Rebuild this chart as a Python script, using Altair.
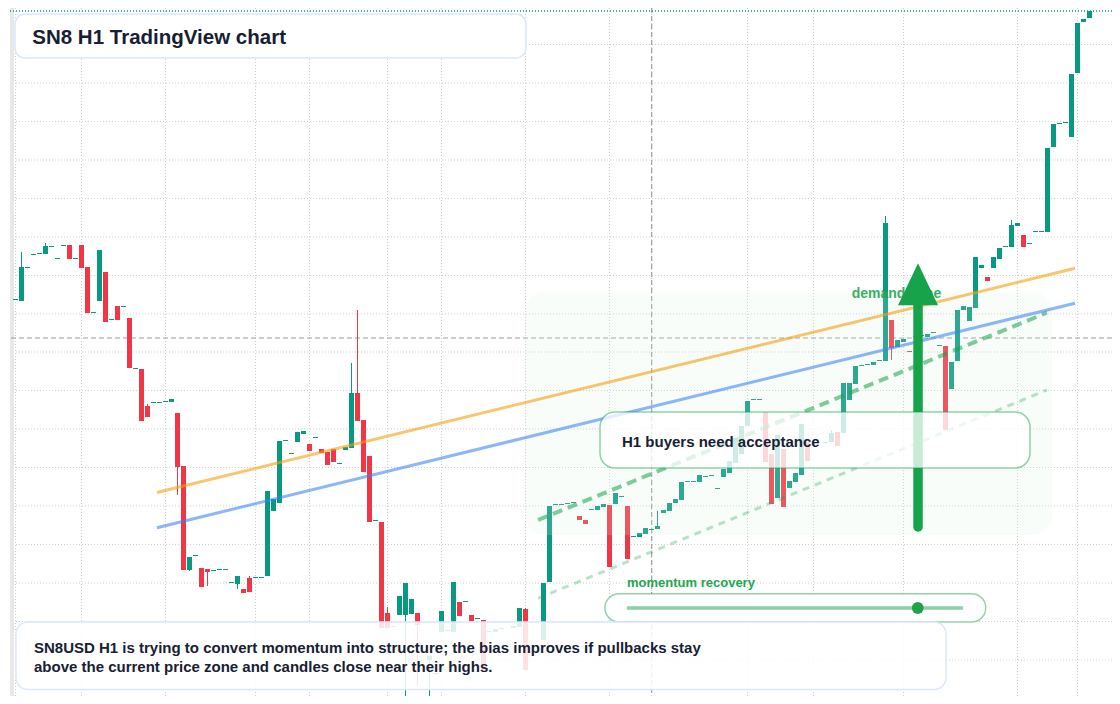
import altair as alt
import pandas as pd

# SN8USD H1 candles, one slot per hour (None = no bar drawn in that slot)
opens = [
    404, 403, 436, 449, 450, 450, 457, 445, 458, 459,
    445, 459, 437, 391, 403, 432, 384, 398, 397, 386,
    335, 335, 298, 301, 301, 302, 302, 291, 238, 134,
    148, 136, 135, 133, 134, 134, 121, 120, 115, 126,
    126, 126, 128, 193, 201, 263, 250, 262, 270, 260,
    266, 255, 252, 255, 240, 254, 256, 311, 284, 248,
    183, 182, 91, 77, 89, 89, 90, 91, None, 44,
    30, 72, 73, 72, 102, 102, 89, 85, 84, 72,
    72, 75, None, 76, 77, 95, None, None, 64, 122,
    199, 199, 200, 201, 188, 184, 194, 194, 197, 199,
    200, 207, 198, 167, 167, 170, 174, 175, 191, 193,
    201, 204, 222, 222, 222, 227, 228, 215, 227, 231,
    241, 250, 278, 304, 304, 292, 250, 206, 255, 216,
    222, 229, 262, None, None, 261, 262, 272, 271, 304,
    320, 338, 339, 339, 343, 343, 384, 357, 362, 353,
    367, 368, 367, 371, 358, 358, 315, 343, 394, 383,
    396, 436, 427, 436, 445, 457, 457, 478, 469, 460,
    472, 472, 472, 557, 580, 581, 567, 631, 682, 686,
]
closes = [
    405, 437, 437, 450, 451, 458, 458, 446, 459, 445,
    446, 436, 391, 392, 454, 382, 385, 384, 398, 336,
    336, 283, 287, 302, 302, 303, 305, 237, 134, 147,
    149, 117, 132, 134, 135, 135, 122, 128, 111, 112,
    127, 127, 213, 205, 263, 264, 251, 272, 273, 253,
    267, 251, 239, 242, 241, 257, 311, 283, 232, 182,
    184, 76, 76, 78, 108, 121, 105, 79, None, 48,
    31, 93, 74, 122, 88, 103, 83, 86, 34, 73,
    75, 76, None, 78, 96, 34, None, None, 121, 198,
    200, 200, 201, 202, 184, 180, 195, 198, 200, 137,
    211, 208, 145, 168, 171, 176, 175, 178, 194, 201,
    205, 222, 223, 223, 229, 228, 229, 216, 235, 243,
    266, 278, 303, 305, 305, 242, 200, 269, 197, 223,
    231, 280, 243, None, None, 262, 271, 258, 321, 321,
    338, 339, 340, 342, 344, 481, 356, 364, 365, 352,
    368, 369, 370, 372, 359, 274, 342, 394, 398, 397,
    447, 439, 423, 447, 456, 458, 479, 481, 457, 461,
    473, 473, 556, 580, 581, 582, 630, 681, 685, 693,
]
# wick extremes that reach past the body
wick_highs = {1: 452, 5: 461, 22: 300, 39: 128, 56: 341, 57: 394, 62: 97,
              69: 48, 85: 96, 107: 193, 136: 274, 145: 488, 166: 484}
wick_lows = {27: 209, 29: 133, 32: 118, 37: 115, 65: 7, 67: 18, 69: 1, 146: 344}

# chart furniture
grid_x = [0, 11, 25, 40, 49, 62, 71, 85, 99, 106, 122, 133, 148, 167, 177]
grid_y = [44, 82.5, 121, 159.5, 198, 236.5, 275, 313.5, 352,
          390, 428.5, 467, 505.5, 544, 582.5, 621, 659.5, 698]
cross_x = 106.03
cross_y = 366

# trend lines: [start slot, end slot], [start price, end price]
orange_x, orange_y = [23.58, 176.58], [211.5, 435.7]
blue_x, blue_y = [23.58, 176.58], [176.3, 400.8]
channel_hi_x, channel_hi_y = [87.1, 171.9], [184, 391.3]
channel_lo_x, channel_lo_y = [87.1, 171.9], [105.7, 314]

title_text = "SN8 H1 TradingView chart"
note_lines = [
    "SN8USD H1 is trying to convert momentum into structure; the bias improves if pullbacks stay",
    "above the current price zone and candles close near their highs.",
]
callout_text = "H1 buyers need acceptance"
zone_text = "demand zone"
meter_text = "momentum recovery"

UP, DOWN = "#089981", "#f23645"
INK = "#172033"
GREEN = "#16a34a"
FONT = "Liberation Sans"

xs = alt.Scale(domain=[-1.25, 182.75], nice=False, zero=False)
ys = alt.Scale(domain=[8, 696], nice=False, zero=False)


def X(f):
    return alt.X(f, type="quantitative", scale=xs, axis=None)


def Y(f):
    return alt.Y(f, type="quantitative", scale=ys, axis=None)


# candles table
df = pd.DataFrame({"open": opens, "close": closes})
df["i"] = range(len(df))
df = df.dropna().copy()
df["high"] = df[["open", "close"]].max(axis=1)
df["low"] = df[["open", "close"]].min(axis=1)
for k, v in wick_highs.items():
    df.loc[df["i"] == k, "high"] = v
for k, v in wick_lows.items():
    df.loc[df["i"] == k, "low"] = v
df["color"] = [UP if c >= o else DOWN for o, c in zip(df["open"], df["close"])]
df["x0"] = df["i"] - 5 / 12
df["x1"] = df["i"] + 5 / 12


def box(x0, x1, y0, y1):
    return pd.DataFrame({"x0": [x0], "x1": [x1], "y0": [y0], "y1": [y1]})


def seg(xv, yv):
    return pd.DataFrame({"x": xv, "y": yv})


def label(x, y, text):
    return pd.DataFrame({"x": [x], "y": [y], "t": [text]})


grid_v = alt.Chart(pd.DataFrame({"x": grid_x})).mark_rule(
    color="#cfcfcf", strokeDash=[1, 2], strokeWidth=1
).encode(x=X("x"))
grid_h = alt.Chart(pd.DataFrame({"y": grid_y})).mark_rule(
    color="#cfcfcf", strokeDash=[1, 2], strokeWidth=1
).encode(y=Y("y"))

strip = alt.Chart(box(-0.917, -0.25, 8, 696)).mark_rect(color="#e8e8e8").encode(
    x=X("x0"), x2="x1", y=Y("y0"), y2="y1"
)

cross_v = alt.Chart(pd.DataFrame({"x": [cross_x]})).mark_rule(
    color="#9e9e9e", strokeDash=[5, 3], strokeWidth=1.2
).encode(x=X("x"))
cross_h = alt.Chart(pd.DataFrame({"y": [cross_y]})).mark_rule(
    color="#9e9e9e", strokeDash=[5, 3], strokeWidth=1.2
).encode(y=Y("y"))

wicks = alt.Chart(df).mark_rule(strokeWidth=1, clip=True).encode(
    x=X("i"), y=Y("high"), y2="low", color=alt.Color("color:N", scale=None)
)
bodies = alt.Chart(df).mark_rect(clip=True).encode(
    x=X("x0"), x2="x1", y=Y("open"), y2="close",
    color=alt.Color("color:N", scale=None),
)

zone = alt.Chart(box(84.92, 172.75, 169, 412.3)).mark_rect(
    fill="#d6f3df", fillOpacity=0.18, cornerRadius=20
).encode(x=X("x0"), x2="x1", y=Y("y0"), y2="y1")

orange = alt.Chart(seg(orange_x, orange_y)).mark_line(
    color="#f59e0b", opacity=0.6, strokeWidth=3, strokeCap="butt"
).encode(x=X("x"), y=Y("y"))
blue = alt.Chart(seg(blue_x, blue_y)).mark_line(
    color="#3b82f6", opacity=0.58, strokeWidth=3, strokeCap="butt"
).encode(x=X("x"), y=Y("y"))
chan_hi = alt.Chart(seg(channel_hi_x, channel_hi_y)).mark_line(
    color=GREEN, opacity=0.55, strokeWidth=4, strokeDash=[10, 6]
).encode(x=X("x"), y=Y("y"))
chan_lo = alt.Chart(seg(channel_lo_x, channel_lo_y)).mark_line(
    color=GREEN, opacity=0.3, strokeWidth=3, strokeDash=[7, 6]
).encode(x=X("x"), y=Y("y"))

last_price = alt.Chart(pd.DataFrame({"y": [closes[-1]]})).mark_rule(
    color=UP, strokeDash=[1, 2], strokeWidth=1.5
).encode(y=Y("y"))

zone_label = alt.Chart(label(139.37, 406, zone_text)).mark_text(
    align="left", baseline="alphabetic", font=FONT, fontSize=14,
    fontWeight="bold", color=GREEN, opacity=0.85
).encode(x=X("x"), y=Y("y"), text="t:N")

arrow_shaft = alt.Chart(seg([150.42, 150.42], [177, 399])).mark_line(
    color=GREEN, strokeWidth=9.5, strokeCap="round"
).encode(x=X("x"), y=Y("y"))
arrow_head = alt.Chart(label(150.42, 418.7, "")).mark_point(
    shape="M-1,1L1,1L0,-1.1Z", size=1600, filled=True, color=GREEN,
    opacity=1, strokeWidth=0
).encode(x=X("x"), y=Y("y"))

callout_box = alt.Chart(box(97.42, 169.08, 236, 292)).mark_rect(
    fill="white", fillOpacity=0.77, stroke=GREEN, strokeOpacity=0.47,
    strokeWidth=1.5, cornerRadius=15
).encode(x=X("x0"), x2="x1", y=Y("y0"), y2="y1")
callout_label = alt.Chart(label(101.08, 257.3, callout_text)).mark_text(
    align="left", baseline="alphabetic", font=FONT, fontSize=15,
    fontWeight="bold", color=INK
).encode(x=X("x"), y=Y("y"), text="t:N")

meter_label = alt.Chart(label(101.92, 117.3, meter_text)).mark_text(
    align="left", baseline="alphabetic", font=FONT, fontSize=13,
    fontWeight="bold", color="#22a84f"
).encode(x=X("x"), y=Y("y"), text="t:N")
meter_box = alt.Chart(box(98.25, 161.7, 82, 110.3)).mark_rect(
    fill="white", stroke=GREEN, strokeOpacity=0.47, strokeWidth=1.5,
    cornerRadius=14
).encode(x=X("x0"), x2="x1", y=Y("y0"), y2="y1")
meter_track = alt.Chart(seg([101.9, 157.9], [96, 96])).mark_line(
    color=GREEN, opacity=0.5, strokeWidth=3.5
).encode(x=X("x"), y=Y("y"))
meter_knob = alt.Chart(label(150.38, 96, "")).mark_circle(
    size=140, color="#1fa34a", opacity=1
).encode(x=X("x"), y=Y("y"))

note_box = alt.Chart(box(0.083, 155.08, 14.5, 82)).mark_rect(
    fill="white", fillOpacity=0.86, stroke="#dbe7fb", strokeWidth=1.5,
    cornerRadius=12
).encode(x=X("x0"), x2="x1", y=Y("y0"), y2="y1")
note_df = pd.DataFrame({"x": [3.08, 3.08], "y": [51, 32], "t": note_lines})
note_text = alt.Chart(note_df).mark_text(
    align="left", baseline="alphabetic", font=FONT, fontSize=15,
    fontWeight="bold", color=INK
).encode(x=X("x"), y=Y("y"), text="t:N")

title_box = alt.Chart(box(-0.08, 85.08, 646, 690)).mark_rect(
    fill="white", stroke="#dbe7fb", strokeWidth=1.5, cornerRadius=10
).encode(x=X("x0"), x2="x1", y=Y("y0"), y2="y1")
title_label = alt.Chart(label(2.8, 660, title_text)).mark_text(
    align="left", baseline="alphabetic", font=FONT, fontSize=20.5,
    fontWeight="bold", color=INK
).encode(x=X("x"), y=Y("y"), text="t:N")

chart = alt.layer(
    grid_v, grid_h, strip, cross_v, cross_h,
    wicks, bodies, zone,
    orange, blue, chan_hi, chan_lo, last_price,
    zone_label, arrow_shaft, arrow_head,
    callout_box, callout_label,
    meter_label, meter_box, meter_track, meter_knob,
    note_box, note_text,
    title_box, title_label,
).properties(
    width=1104, height=688, padding=0,
    autosize=alt.AutoSizeParams(type="none"),
    background="white",
).configure_view(stroke=None)

chart.save("out.html", embed_options={"renderer": "svg", "actions": False})
